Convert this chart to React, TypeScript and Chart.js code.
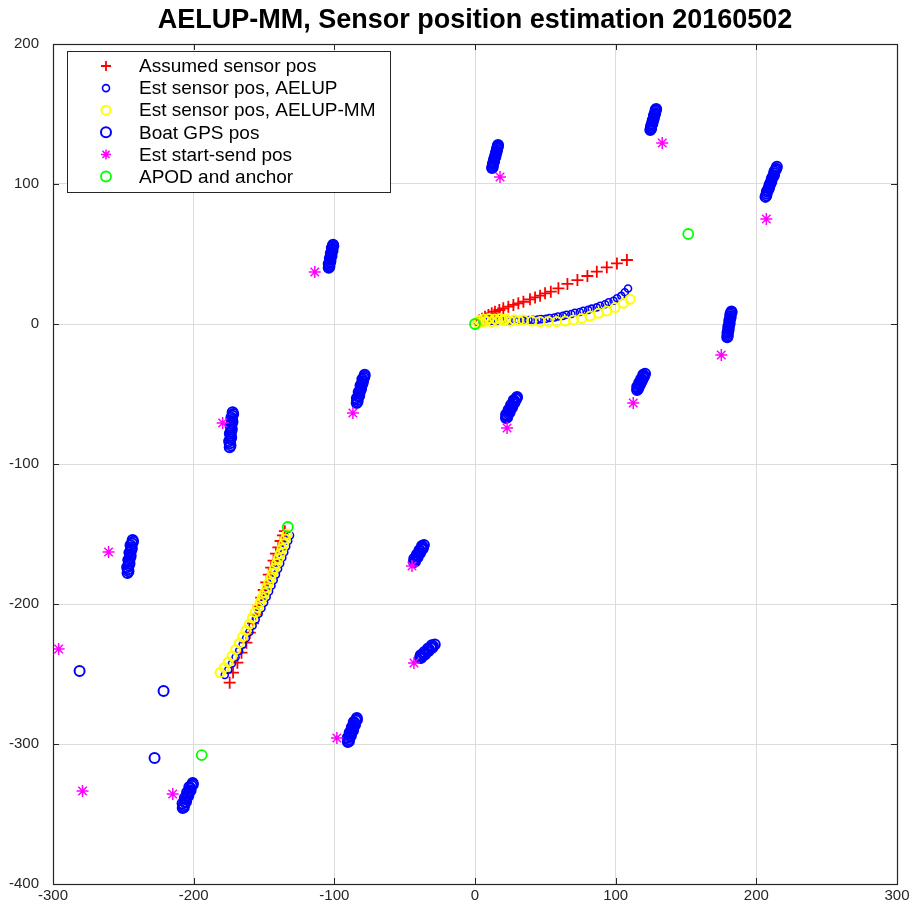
import React, { useEffect, useRef } from 'react';
import { Chart, registerables } from 'chart.js';

Chart.register(...registerables);

const TITLE = 'AELUP-MM, Sensor position estimation 20160502';
const X_TICKS = [-300, -200, -100, 0, 100, 200, 300];
const Y_TICKS = [-400, -300, -200, -100, 0, 100, 200];
const SERIES_NAMES = [
  'Assumed sensor pos',
  'Est sensor pos, AELUP',
  'Est sensor pos, AELUP-MM',
  'Boat GPS pos',
  'Est start-send pos',
  'APOD and anchor',
];

type P = [number, number];

const assumedSensorPos: P[] = [
  [3, 2.5], [5, 3.8], [7.1, 5.2], [9.5, 6.4], [11.9, 7.6], [14.2, 8.8], [17.3, 10], [20.1, 11.2],
  [23.7, 12.4], [27.3, 13.6], [30.8, 14.8], [34.4, 15.9], [39.1, 17.6], [42.7, 19.0], [46.3, 20.2],
  [49.8, 21.9], [53.9, 23.1], [59.3, 25.5], [65.7, 28.6], [72.8, 31.4], [79.9, 34.3], [86.6, 37.4],
  [93.7, 40.5], [100.9, 43.3], [108, 45.7],
  [-135.2, -148], [-136.6, -151], [-138.2, -155], [-139.8, -159.5], [-141.5, -164], [-143.2, -169],
  [-144.9, -174], [-146.6, -179], [-148.4, -184.5], [-150.2, -190], [-152, -195.5], [-153.9, -201.5],
  [-155.8, -207.5], [-157.8, -213.8], [-160.1, -220.5], [-162.5, -227.6], [-166, -234.8],
  [-168.9, -241.9], [-172, -249], [-174.4, -256.2],
];

const estAelup: P[] = [
  [2, 1.5], [4.5, 1.7], [7, 1.6], [10, 1.9], [13, 2.1], [16.5, 2], [19, 2.3], [22.5, 2.2], [25, 2.5],
  [28.5, 2.4], [31, 2.7], [34.5, 2.6], [38, 2.9], [41, 3.0], [44.5, 3.1], [47, 3.5], [50.5, 3.8],
  [53, 4.3], [56.5, 4.6], [59, 5.4], [62.5, 5.8], [65, 6.6], [68.5, 7.1], [71, 8.0], [74.5, 8.6],
  [77, 9.5], [80.5, 10.1], [83, 11.0], [86.5, 11.9], [89, 13.0], [92.5, 14.1], [95, 15.5],
  [98.5, 16.6], [101, 18.4], [104, 20.1], [106.5, 22.7], [108.8, 25.4],
  [-131.5, -151], [-132.8, -155], [-134.2, -159], [-135.6, -163], [-137, -167], [-138.5, -171],
  [-140, -175], [-141.5, -179], [-143.1, -183], [-144.7, -187], [-146.4, -191], [-148.1, -195],
  [-149.9, -199], [-151.8, -203], [-153.8, -207], [-155.9, -211], [-158.1, -215.5], [-160.4, -220],
  [-162.8, -224.5], [-165.2, -229], [-167.7, -233.5], [-170.2, -238], [-172.8, -242.5],
  [-175.4, -247], [-177.9, -250.7],
];

const estAelupMM: P[] = [
  [2, 0.5], [3, 2.5], [5, 1], [6, 3.5], [8, 2], [10, 4], [12, 1.5], [14, 3.5], [16, 2], [18, 4],
  [20, 2.5], [22, 3.5], [25, 2], [28, 3], [31, 2.5], [34.4, 2.9], [40.3, 2.1], [46.3, 1.7],
  [52.2, 1.7], [58.1, 1.7], [64.1, 2.1], [70, 2.9], [75.9, 4.0], [81.9, 5.7], [87.8, 7.6],
  [93.7, 9.3], [99.6, 11.7], [105.5, 14.8], [110.3, 17.6],
  [-133.6, -150], [-134.8, -153.5], [-136, -157], [-137.2, -160.5], [-138.5, -164], [-139.8, -167.5],
  [-141.1, -171], [-142.4, -174.5], [-143.8, -178], [-145.2, -181.5], [-146.6, -185],
  [-148.1, -188.5], [-149.6, -192], [-151.2, -195.5], [-152.8, -199], [-154.5, -202.5],
  [-156.3, -206], [-158.3, -210], [-160.5, -214.5], [-162.8, -219], [-165.2, -223.5],
  [-167.6, -228], [-170.2, -232.5], [-172.8, -237], [-175.5, -241.5], [-178.3, -245.5],
  [-181.3, -249],
];

const boatGps: P[] = [
  [12.1, 111.4], [12.6, 113.2], [13.0, 115.1], [13.5, 116.9], [14.0, 118.8], [14.5, 120.6], [15.0, 122.5], [15.5, 124.3], [16.0, 126.1], [16.4, 127.9],
  [12.6, 112.0], [12.8, 114.3], [13.5, 115.8], [13.8, 118.0], [14.5, 119.5], [14.8, 121.7], [15.4, 123.1], [15.8, 125.4], [16.2, 127.0],
  [124.6, 138.6], [125.1, 140.5], [125.6, 142.4], [126.2, 144.2], [126.7, 146.1], [127.2, 148.0], [127.7, 149.9], [128.3, 151.7], [128.8, 153.6],
  [125.2, 139.4], [125.3, 141.6], [126.1, 143.1], [126.3, 145.3], [127.1, 146.9], [127.3, 149.1], [128.1, 150.6], [128.4, 152.8],
  [206.5, 90.8], [207.3, 93.2], [208.1, 95.6], [209.2, 98.1], [210.0, 100.4], [210.8, 102.9], [211.9, 105.3], [212.7, 107.6], [213.6, 110.0], [214.6, 112.3],
  [207.1, 91.8], [207.5, 94.6], [208.8, 96.6], [209.4, 99.4], [210.6, 101.4], [211.1, 104.2], [212.5, 106.2], [212.9, 109.0], [214.2, 110.9],
  [179.3, -9.5], [179.6, -7.3], [179.9, -5.2], [180.2, -3.0], [180.6, -0.9], [180.9, 1.3], [181.3, 3.5], [181.6, 5.6], [182.0, 7.8], [182.3, 9.0],
  [179.7, -8.6], [179.5, -6.1], [180.3, -4.2], [180.1, -1.8], [181.0, 0.1], [180.8, 2.6], [181.7, 4.4], [181.5, 6.8], [182.4, 8.4],
  [-104.0, 40.1], [-103.6, 42.0], [-103.3, 43.9], [-102.9, 45.8], [-102.6, 47.7], [-102.2, 49.6], [-101.9, 51.4], [-101.5, 53.3], [-101.2, 55.2], [-100.9, 56.6],
  [-103.5, 40.9], [-104.0, 43.0], [-102.8, 44.7], [-103.2, 46.9], [-102.0, 48.6], [-102.5, 50.6], [-101.3, 52.3], [-101.8, 54.3], [-100.7, 55.8],
  [-84.1, -56.5], [-83.5, -54.3], [-82.8, -52.0], [-82.2, -49.8], [-81.6, -47.5], [-81.0, -45.3], [-80.3, -43.0], [-79.7, -40.8], [-79.0, -38.5], [-78.4, -36.3],
  [-83.5, -55.6], [-84.0, -53.0], [-82.3, -51.0], [-82.7, -48.5], [-81.0, -46.5], [-81.4, -44.0], [-79.8, -42.0], [-80.1, -39.5], [-78.6, -37.5],
  [22.0, -67.2], [22.9, -65.5], [23.8, -63.9], [24.6, -62.2], [25.5, -60.5], [26.4, -58.8], [27.3, -57.1], [28.2, -55.4], [29.1, -53.7], [29.9, -52.1],
  [22.9, -66.6], [22.1, -64.6], [24.6, -63.1], [23.9, -61.2], [26.3, -59.7], [25.6, -57.8], [28.0, -56.3], [27.5, -54.4], [29.6, -52.9],
  [115.2, -47.1], [115.9, -45.6], [116.6, -44.2], [117.3, -42.8], [118.0, -41.4], [118.7, -40.0], [119.4, -38.5], [120.1, -37.1], [120.9, -35.6],
  [115.9, -46.5], [115.3, -44.9], [117.2, -43.6], [116.7, -42.0], [118.6, -40.7], [118.1, -39.2], [120.0, -37.9], [119.6, -36.3],
  [-174.4, -88.0], [-174.2, -85.2], [-173.9, -82.4], [-173.7, -79.6], [-173.4, -76.8], [-173.2, -74.0], [-172.9, -71.2], [-172.7, -68.4], [-172.5, -65.6], [-172.3, -63.0],
  [-173.8, -86.7], [-174.8, -83.8], [-173.3, -81.0], [-174.3, -78.2], [-172.9, -75.4], [-173.8, -72.6], [-172.4, -69.8], [-173.2, -67.0], [-171.9, -64.3],
  [-247.0, -177.8], [-246.6, -175.2], [-246.2, -172.5], [-245.8, -169.9], [-245.4, -167.3], [-245.0, -164.6], [-244.6, -162.0], [-244.2, -159.4], [-243.8, -156.8], [-243.4, -154.3],
  [-246.3, -176.6], [-247.3, -173.8], [-245.6, -171.2], [-246.5, -168.6], [-244.8, -165.9], [-245.7, -163.3], [-244.0, -160.7], [-244.9, -158.1], [-243.1, -155.5],
  [-43.4, -170.0], [-42.5, -168.5], [-41.6, -167.0], [-40.7, -165.5], [-39.8, -164.0], [-38.9, -162.4], [-38.0, -160.9], [-37.1, -159.4], [-36.3, -157.9],
  [-42.6, -169.6], [-43.2, -167.6], [-40.8, -166.6], [-41.3, -164.6], [-39.0, -163.6], [-39.5, -161.6], [-37.2, -160.6], [-37.7, -158.5],
  [-39.1, -238.6], [-37.8, -237.4], [-36.5, -236.2], [-35.2, -235.0], [-33.9, -233.8], [-32.6, -232.6], [-31.3, -231.4], [-29.9, -230.2], [-28.6, -229.0],
  [-38.2, -238.4], [-38.6, -236.6], [-35.6, -236.0], [-36.0, -234.2], [-33.0, -233.6], [-33.4, -231.8], [-30.4, -231.2], [-30.7, -229.4],
  [-90.4, -298.6], [-89.7, -296.7], [-89.0, -294.8], [-88.3, -292.9], [-87.6, -291.0], [-86.8, -289.1], [-86.1, -287.2], [-85.4, -285.3], [-84.7, -283.3], [-84.0, -281.4],
  [-89.6, -298.0], [-90.5, -295.6], [-88.2, -294.1], [-89.1, -291.8], [-86.7, -290.3], [-87.6, -288.0], [-85.3, -286.5], [-86.2, -284.2], [-83.9, -282.6],
  [-207.8, -345.7], [-207.0, -343.7], [-206.2, -341.7], [-205.4, -339.7], [-204.6, -337.7], [-203.9, -335.8], [-203.1, -333.8], [-202.3, -331.8], [-201.5, -329.8], [-200.7, -327.9],
  [-207.0, -345.2], [-207.9, -342.5], [-205.4, -341.2], [-206.3, -338.6], [-203.8, -337.2], [-204.7, -334.7], [-202.2, -333.2], [-203.1, -330.7], [-200.6, -329.0],
  [-281.1, -247.9], [-221.4, -262.1], [-227.8, -310.0],
];

const startSend: P[] = [
  [17.8, 105], [133.1, 129.3], [207.1, 75], [175.1, -22.1], [112.5, -56.4], [22.8, -74.3],
  [-86.8, -63.6], [-113.9, 37.1], [-179.4, -70.7], [-260.5, -162.9], [-44.8, -172.9],
  [-43.4, -242.1], [-98.2, -295.7], [-214.9, -335.7], [-279, -333.6], [-296, -232.1],
];

const apodAnchor: P[] = [[0, 0], [151.6, 64.3], [-133.1, -145], [-194.3, -307.9]];

const SERIES_DATA: P[][] = [assumedSensorPos, estAelup, estAelupMM, boatGps, startSend, apodAnchor];

const STYLES = [
  { shape: 'cross', color: '#ff0000', r: 6, lw: 1.8 },
  { shape: 'circle', color: '#0000ff', r: 3.5, lw: 1.6 },
  { shape: 'circle', color: '#ffff00', r: 4.5, lw: 2 },
  { shape: 'circle', color: '#0000ff', r: 5, lw: 2 },
  { shape: 'star', color: '#ff00ff', r: 6, lw: 1.5 },
  { shape: 'circle', color: '#00ff00', r: 5, lw: 1.8 },
];

const FONT = '"Liberation Sans", Arial, Helvetica, sans-serif';

function drawMarker(ctx: CanvasRenderingContext2D, shape: string, x: number, y: number, r: number, color: string, lw: number) {
  ctx.save();
  ctx.strokeStyle = color;
  ctx.lineWidth = lw;
  ctx.beginPath();
  if (shape === 'circle') {
    ctx.arc(x, y, r, 0, Math.PI * 2);
  } else {
    ctx.moveTo(x - r, y); ctx.lineTo(x + r, y);
    ctx.moveTo(x, y - r); ctx.lineTo(x, y + r);
    if (shape === 'star') {
      const d = r * Math.SQRT1_2;
      ctx.moveTo(x - d, y - d); ctx.lineTo(x + d, y + d);
      ctx.moveTo(x - d, y + d); ctx.lineTo(x + d, y - d);
    }
  }
  ctx.stroke();
  ctx.restore();
}

const framePlugin = {
  id: 'matlabFrame',
  afterDatasetsDraw(chart: any) {
    const { ctx, chartArea: a, scales } = chart;
    ctx.save();
    ctx.strokeStyle = '#262626';
    ctx.lineWidth = 1;
    ctx.beginPath();
    X_TICKS.forEach((v) => {
      const px = Math.round(scales.x.getPixelForValue(v)) + 0.5;
      ctx.moveTo(px, a.bottom); ctx.lineTo(px, a.bottom - 6);
      ctx.moveTo(px, a.top); ctx.lineTo(px, a.top + 6);
    });
    Y_TICKS.forEach((v) => {
      const py = Math.round(scales.y.getPixelForValue(v)) + 0.5;
      ctx.moveTo(a.left, py); ctx.lineTo(a.left + 6, py);
      ctx.moveTo(a.right, py); ctx.lineTo(a.right - 6, py);
    });
    ctx.stroke();
    ctx.strokeStyle = '#262626';
    ctx.lineWidth = 1.2;
    ctx.strokeRect(Math.round(a.left) + 0.5, Math.round(a.top) + 0.5, Math.round(a.right - a.left), Math.round(a.bottom - a.top));

    const lx = a.left + 14;
    const ly = a.top + 7;
    const lw = 323;
    const lh = 141;
    ctx.fillStyle = '#ffffff';
    ctx.fillRect(lx, ly, lw, lh);
    ctx.strokeStyle = '#262626';
    ctx.lineWidth = 1;
    ctx.strokeRect(Math.round(lx) + 0.5, Math.round(ly) + 0.5, lw, lh);
    ctx.font = `19px ${FONT}`;
    ctx.textBaseline = 'middle';
    ctx.textAlign = 'left';
    chart.data.datasets.forEach((ds: any, i: number) => {
      const st = STYLES[i];
      const cy = ly + 15 + i * 22.1;
      drawMarker(ctx, st.shape, lx + 39, cy, Math.min(st.r, 5), st.color, st.lw);
      ctx.fillStyle = '#000000';
      ctx.fillText(ds.label, lx + 72, cy + 1);
    });
    ctx.restore();
  },
};

export default function App() {
  const ref = useRef<HTMLCanvasElement | null>(null);

  useEffect(() => {
    if (!ref.current) return;
    const datasets = SERIES_DATA.map((pts, i) => {
      const st = STYLES[i];
      return {
        label: SERIES_NAMES[i],
        data: pts.map(([x, y]) => ({ x, y })),
        showLine: false,
        pointStyle: st.shape,
        pointRadius: st.r,
        pointBorderWidth: st.lw,
        pointBorderColor: st.color,
        pointBackgroundColor: 'rgba(0,0,0,0)',
        borderColor: st.color,
        backgroundColor: 'rgba(0,0,0,0)',
        order: 6 - i,
      };
    });
    const chart = new Chart(ref.current, {
      type: 'scatter',
      data: { datasets },
      plugins: [framePlugin],
      options: {
        animation: false,
        responsive: false,
        devicePixelRatio: 1,
        events: [],
        layout: { padding: { left: 0, right: 16, top: 0, bottom: 0 } },
        plugins: {
          legend: { display: false },
          tooltip: { enabled: false },
          title: {
            display: true,
            text: TITLE,
            fullSize: false,
            color: '#000000',
            font: { family: FONT, size: 27, weight: 'bold' },
            padding: { top: 4, bottom: 7.6 },
          },
        },
        scales: {
          x: {
            type: 'linear',
            min: -300,
            max: 300,
            afterBuildTicks: (s: any) => { s.ticks = X_TICKS.map((v) => ({ value: v })); },
            afterFit: (s: any) => { s.height = 29; },
            grid: { color: '#dcdcdc', lineWidth: 1, drawTicks: false },
            border: { display: false },
            ticks: { color: '#262626', font: { family: FONT, size: 15 }, padding: 3, maxRotation: 0 },
          },
          y: {
            type: 'linear',
            min: -400,
            max: 200,
            afterBuildTicks: (s: any) => { s.ticks = Y_TICKS.map((v) => ({ value: v })); },
            afterFit: (s: any) => { s.width = 53; },
            grid: { color: '#dcdcdc', lineWidth: 1, drawTicks: false },
            border: { display: false },
            ticks: { color: '#262626', font: { family: FONT, size: 15 }, padding: 14 },
          },
        },
      },
    } as any);
    return () => chart.destroy();
  }, []);

  return (
    <div style={{ position: 'fixed', left: 0, top: 0, width: 913, height: 913, background: '#fff' }}>
      <canvas ref={ref} width={913} height={913} style={{ display: 'block', width: 913, height: 913 }} />
    </div>
  );
}
